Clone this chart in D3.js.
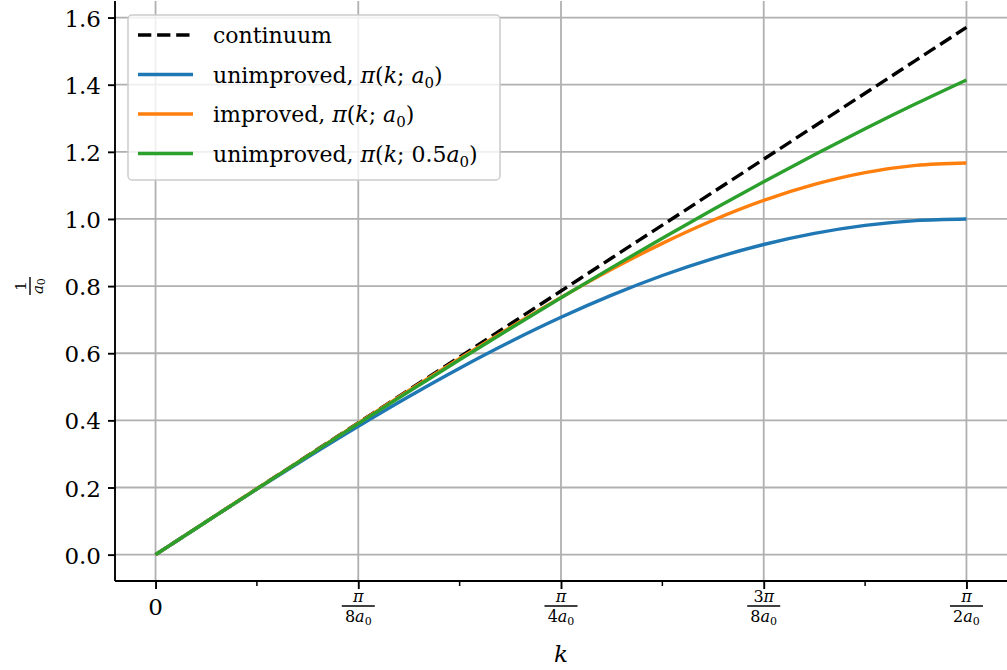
<!DOCTYPE html>
<html>
<head>
<meta charset="utf-8">
<script src="https://cdn.jsdelivr.net/npm/d3@7"></script>
<style>
  body { margin: 0; background: #fff; }
  svg { display: block; }
  svg text { font-family: "DejaVu Serif", "Liberation Serif", serif !important; fill: #000; }
  .grid line { stroke: #b0b0b0; stroke-width: 1.8; }
</style>
</head>
<body>
<script>
// momentum samples, k in units of 1/a0, step pi/32
var kSteps = [0, 1, 2, 3, 4, 5, 6, 7, 8, 9, 10, 11, 12, 13, 14, 15, 16];
var continuum = [0, 0.0982, 0.1963, 0.2945, 0.3927, 0.4909, 0.5890, 0.6872, 0.7854,
                 0.8836, 0.9817, 1.0799, 1.1781, 1.2763, 1.3744, 1.4726, 1.5708];
var unimproved = [0, 0.0980, 0.1951, 0.2903, 0.3827, 0.4714, 0.5556, 0.6344, 0.7071,
                  0.7730, 0.8315, 0.8819, 0.9239, 0.9569, 0.9808, 0.9952, 1.0000];
var improved = [0, 0.0982, 0.1963, 0.2944, 0.3920, 0.4889, 0.5842, 0.6770, 0.7660,
                0.8500, 0.9273, 0.9962, 1.0553, 1.1029, 1.1381, 1.1595, 1.1667];
var unimprovedHalf = [0, 0.0981, 0.1960, 0.2935, 0.3902, 0.4860, 0.5806, 0.6738, 0.7654,
                      0.8551, 0.9428, 1.0282, 1.1111, 1.1914, 1.2688, 1.3431, 1.4142];

var yTicks = [0, 0.2, 0.4, 0.6, 0.8, 1.0, 1.2, 1.4, 1.6];
var xTickNums = ["0", "", "", "3", ""];
var xTickDens = ["", "8", "4", "8", "2"];

var width = 1007, height = 670;
var margin = {left: 115, top: 1, right: 0, bottom: 89};
var kMax = Math.PI / 2;

var svg = d3.select("body").append("svg")
  .attr("width", width)
  .attr("height", height);

var x = d3.scaleLinear()
  .domain([-0.05 * kMax, 1.05 * kMax])
  .range([margin.left, width - margin.right]);
var y = d3.scaleLinear()
  .domain([-0.05 * kMax, 1.05 * kMax])
  .range([height - margin.bottom, margin.top]);

var xMajor = [0, 1, 2, 3, 4].map(function(i){ return i * Math.PI / 8; });
var xMinor = [1, 3, 5, 7].map(function(i){ return i * Math.PI / 16; });

//grid lines
var grid = svg.append("g").attr("class", "grid");
grid.selectAll(".gx").data(xMajor).enter().append("line")
  .attr("x1", function(d){ return x(d); }).attr("x2", function(d){ return x(d); })
  .attr("y1", y.range()[0]).attr("y2", y.range()[1]);
grid.selectAll(".gy").data(yTicks).enter().append("line")
  .attr("x1", x.range()[0]).attr("x2", x.range()[1])
  .attr("y1", function(d){ return y(d); }).attr("y2", function(d){ return y(d); });

//curves
var k = kSteps.map(function(i){ return i * Math.PI / 32; });
var series = [
  {vals: continuum, color: "#000000", dash: "13.3,5.8", label: "continuum"},
  {vals: unimproved, color: "#1f77b4", dash: null, label: "unimproved, ", arg: "a"},
  {vals: improved, color: "#ff7f0e", dash: null, label: "improved, ", arg: "a"},
  {vals: unimprovedHalf, color: "#2ca02c", dash: null, label: "unimproved, ", arg: "0.5a"}
];

var line = d3.line()
  .x(function(d){ return x(d[0]); })
  .y(function(d){ return y(d[1]); })
  .curve(d3.curveMonotoneX);

svg.selectAll(".curve").data(series).enter().append("path")
  .attr("class", "curve")
  .attr("d", function(s){ return line(k.map(function(kk, i){ return [kk, s.vals[i]]; })); })
  .attr("fill", "none")
  .attr("stroke", function(s){ return s.color; })
  .attr("stroke-width", 3.4)
  .attr("stroke-dasharray", function(s){ return s.dash; });

//axes
var yAxis = d3.axisLeft(y).tickValues(yTicks).tickSize(7).tickPadding(7)
  .tickFormat(d3.format(".1f"));
var gy = svg.append("g").attr("transform", "translate(" + margin.left + ",0)").call(yAxis);
gy.select(".domain").attr("stroke-width", 1.9).attr("d", "M0," + y.range()[0] + "V" + y.range()[1]);
gy.selectAll(".tick line").attr("stroke-width", 1.9);
gy.selectAll(".tick text").style("font-size", "23px").attr("dy", "0.37em");

var xAxis = d3.axisBottom(x).tickValues(xMajor).tickSize(8).tickFormat("");
var gx = svg.append("g").attr("transform", "translate(0," + y.range()[0] + ")").call(xAxis);
gx.select(".domain").attr("stroke-width", 1.9).attr("d", "M" + x.range()[0] + ",0H" + x.range()[1]);
gx.selectAll(".tick line").attr("stroke-width", 1.9);
gx.selectAll(".minor").data(xMinor).enter().append("line")
  .attr("class", "minor")
  .attr("x1", function(d){ return x(d); }).attr("x2", function(d){ return x(d); })
  .attr("y1", 0).attr("y2", 5).attr("stroke", "#000").attr("stroke-width", 1.5);

//fraction tick labels
xMajor.forEach(function(v, i){
  var t = gx.append("g").attr("transform", "translate(" + x(v) + ",0)");
  if (i === 0) {
    t.append("text").attr("y", 34).attr("text-anchor", "middle")
      .style("font-size", "23px").text("0");
    return;
  }
  var num = t.append("text").attr("y", 21).attr("text-anchor", "middle").style("font-size", "16px");
  num.append("tspan").text(xTickNums[i]);
  num.append("tspan").style("font-style", "italic").text("π");
  t.append("line").attr("x1", -16.5).attr("x2", 16.5).attr("y1", 25).attr("y2", 25)
    .attr("stroke", "#000").attr("stroke-width", 1.5);
  var den = t.append("text").attr("y", 41).attr("text-anchor", "middle").style("font-size", "16px");
  den.append("tspan").text(xTickDens[i]);
  den.append("tspan").style("font-style", "italic").text("a");
  den.append("tspan").attr("dy", 3).style("font-size", "11px").text("0");
});

//x label
svg.append("text").attr("x", x(Math.PI / 4)).attr("y", 662)
  .attr("text-anchor", "middle").style("font-size", "23px").style("font-style", "italic").text("k");

//y label: rotated fraction 1/a0
var yl = svg.append("g").attr("transform", "translate(29," + y(0.8) + ") rotate(-90)");
yl.append("text").attr("y", -3).attr("text-anchor", "middle").style("font-size", "15px").text("1");
yl.append("line").attr("x1", -9).attr("x2", 9).attr("y1", 1).attr("y2", 1)
  .attr("stroke", "#000").attr("stroke-width", 1.4);
var ylden = yl.append("text").attr("y", 14).attr("text-anchor", "middle").style("font-size", "15px");
ylden.append("tspan").style("font-style", "italic").text("a");
ylden.append("tspan").attr("dy", 2).style("font-size", "11px").text("0");

//legend
var lg = svg.append("g").attr("transform", "translate(128,15)");
lg.append("rect").attr("width", 372).attr("height", 165).attr("rx", 4)
  .attr("fill", "#fff").attr("fill-opacity", 0.8)
  .attr("stroke", "#cccccc").attr("stroke-width", 1.5);
var rows = lg.selectAll(".row").data(series).enter().append("g")
  .attr("transform", function(d, i){ return "translate(0," + (20 + i * 39.5) + ")"; });
rows.append("line").attr("x1", 10).attr("x2", 65).attr("y1", 0).attr("y2", 0)
  .attr("stroke", function(d){ return d.color; }).attr("stroke-width", 3.4)
  .attr("stroke-dasharray", function(d){ return d.dash; });
rows.each(function(d){
  var t = d3.select(this).append("text").attr("x", 85).attr("y", 8).style("font-size", "22px");
  t.append("tspan").text(d.label);
  if (!d.arg) return;
  t.append("tspan").style("font-style", "italic").text("π");
  t.append("tspan").text("(");
  t.append("tspan").style("font-style", "italic").text("k");
  t.append("tspan").text("; ");
  if (d.arg === "0.5a") t.append("tspan").text("0.5");
  t.append("tspan").style("font-style", "italic").text("a");
  t.append("tspan").attr("dy", 5).style("font-size", "15px").text("0");
  t.append("tspan").attr("dy", -5).text(")");
});
</script>
</body>
</html>
